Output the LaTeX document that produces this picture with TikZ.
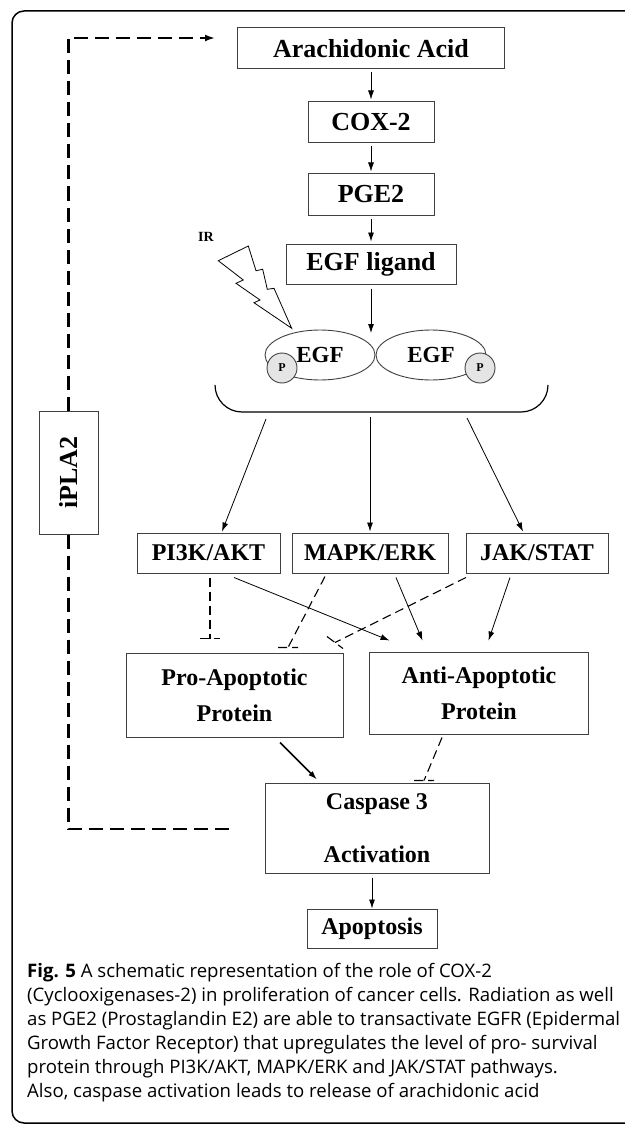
\documentclass[tikz,border=0pt]{standalone}
\usepackage{fontspec}
\setmainfont{Liberation Serif}
\newfontfamily\capfont{Open Sans}
\usetikzlibrary{positioning,shapes.geometric,arrows.meta,calc}

\begin{document}
\begin{tikzpicture}[x=1pt,y=-1pt,
  box/.style={draw=black!75, line width=1pt, rectangle, inner sep=0pt, align=center, font=\fontsize{24}{36}\selectfont\bfseries},
  bigbox/.style={box, font=\fontsize{26}{30}\selectfont\bfseries},
  egf/.style={draw=black!75, line width=0.9pt, ellipse, minimum width=110pt, minimum height=50pt, inner sep=0pt, font=\fontsize{23}{23}\selectfont\bfseries},
  phos/.style={draw=black!75, line width=0.9pt, fill=black!10, circle, minimum size=30pt, inner sep=0pt, font=\fontsize{12}{12}\selectfont\bfseries},
  link/.style={-{Latex[length=9pt,width=6pt]}, line width=0.8pt},
  block/.style={dash pattern=on 9pt off 5pt, line width=1.1pt},
  loopline/.style={dash pattern=on 14pt off 7pt, line width=2.2pt}]
  \useasboundingbox (0,0) rectangle (624,1126);

  % frame
  \draw[line width=1.5pt, rounded corners=12pt] (700,11) -- (12,11) -- (12,1123) -- (700,1123);

  % upper chain
  \node[bigbox, minimum width=267pt, minimum height=41pt] (arach) at (371,48.5) {Arachidonic Acid};
  \node[bigbox, minimum width=126pt, minimum height=41pt] (cox) at (371,122.5) {COX-2};
  \node[bigbox, minimum width=126pt, minimum height=41pt] (pge) at (371,194.5) {PGE2};
  \node[bigbox, minimum width=170pt, minimum height=40pt] (ligand) at (371,264) {EGF ligand};

  % receptor
  \node[egf] (egfL) at (320,355) {EGF};
  \node[egf] (egfR) at (431,355) {EGF};
  \node[phos] (pL) at (282,368) {P};
  \node[phos] (pR) at (480,368) {P};
  \coordinate (dock) at (371,333);

  % radiation
  \node[font=\fontsize{14}{14}\selectfont\bfseries] (ir) at (206,237) {IR};
  \draw[line width=0.8pt] (218.3,260.7) -- (248.3,246) -- (256,270.7) -- (262.7,269.3) -- (267.3,289.3) -- (274,288.3)
    -- (291.7,328.3) -- (254,302.7) -- (260,300) -- (236,283.3) -- (243.3,280) -- cycle;

  % bracket
  \draw[line width=1.2pt, rounded corners=27pt] (215,385) -- (215,412) -- (548,412) -- (548,385);
  \coordinate (brL) at (266,419);
  \coordinate (brM) at (370,417);
  \coordinate (brR) at (467,418);

  % pathways
  \node[box, minimum width=143pt, minimum height=40pt] (pi3k) at (208.5,553) {PI3K/AKT};
  \node[box, minimum width=156pt, minimum height=40pt] (mapk) at (370,553) {MAPK/ERK};
  \node[box, minimum width=142pt, minimum height=40pt] (jak) at (537,553) {JAK/STAT};

  \node[box, minimum width=217pt, minimum height=84pt] (pro) at (234.5,695) {Pro-Apoptotic\\Protein};
  \node[box, minimum width=219pt, minimum height=82pt] (anti) at (479,693) {Anti-Apoptotic\\Protein};
  \node[box, minimum width=224pt, minimum height=90pt] (casp) at (377,828) {Caspase 3\\[17pt]Activation};
  \node[box, minimum width=130pt, minimum height=39pt] (apop) at (372,928.5) {Apoptosis};

  \node[bigbox, rotate=90, minimum width=123pt, minimum height=59pt] (ipla) at (68.5,472.5) {iPLA2};

  % connectors
  \draw[link, shorten <=3pt, shorten >=2pt] (arach) -- (cox);
  \draw[link, shorten <=3pt, shorten >=2pt] (cox) -- (pge);
  \draw[link, shorten <=3pt, shorten >=2pt] (pge) -- (ligand);
  \draw[link] ($(ligand.south)+(0,4)$) -- (dock);

  \draw[link] (brL) -- ($(pi3k.north)+(13.5,-1)$);
  \draw[link] (brM) -- ($(mapk.north)+(0,-1)$);
  \draw[link] (brR) -- ($(jak.north)+(-14,-1)$);

  \draw[block] ($(pi3k.south)+(1.5,4)$) -- ($(pro.north)+(-24.5,-14)$) ++(-10,0) -- ++(20,0);
  \draw[block] ($(mapk.south)+(-45,3)$) -- ($(pro.north)+(53.5,-5)$) ++(-10,0) -- ++(20,0);
  \draw[block] ($(jak.south)+(-71,4)$) -- ($(pro.north)+(100.5,-10)$) ++(-8,-6) -- ++(16,12);

  \draw[link] ($(pi3k.south)+(25.5,4)$) -- ($(anti.north)+(-89.5,-11)$);
  \draw[link] ($(mapk.south)+(26,4)$) -- ($(anti.north)+(-56.5,-11)$);
  \draw[link] ($(jak.south)+(-27,4)$) -- ($(anti.north)+(9.5,-11)$);

  \draw[link, line width=1.6pt] ($(pro.south)+(45.5,5)$) -- ($(casp.north)+(-60,-3)$);
  \draw[block] ($(anti.south)+(-37,3)$) -- ($(casp.north)+(47,-2)$) ++(-10,0) -- ++(20,0);
  \draw[link] ($(casp.south)+(-5,4)$) -- (apop.north);

  % feedback loop
  \draw[loopline, -{Latex[length=10pt,width=7pt]}] (ipla.east) |- ($(arach.west)+(-22,-10.5)$);
  \draw[loopline] (ipla.west) |- ($(casp.west)+(-29,1)$);

  % caption
  \node[anchor=north west, inner sep=0pt, align=left, font=\capfont\fontsize{18.6}{24}\selectfont] (caption) at (27,963)
    {\textbf{Fig. 5} A schematic representation of the role of COX-2\\
     (Cyclooxigenases-2) in proliferation of cancer cells. Radiation as well\\
     as PGE2 (Prostaglandin E2) are able to transactivate EGFR (Epidermal\\
     Growth Factor Receptor) that upregulates the level of pro- survival\\
     protein through PI3K/AKT, MAPK/ERK and JAK/STAT pathways.\\
     Also, caspase activation leads to release of arachidonic acid};
\end{tikzpicture}
\end{document}
